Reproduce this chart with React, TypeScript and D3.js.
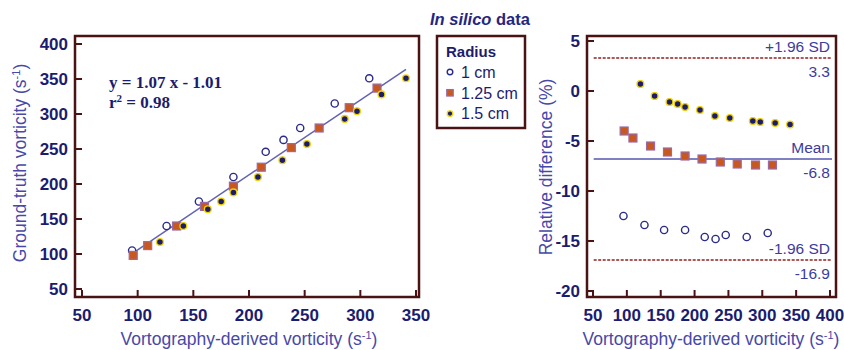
import { useEffect, useRef } from 'react';
import * as d3 from 'd3';

const circleX = [95, 126, 155, 186, 215, 231, 246, 277, 308];
const circleY = [105, 140, 175, 210, 246, 263, 280, 315, 351];
const circleDiff = [-12.5, -13.4, -13.9, -13.9, -14.6, -14.8, -14.4, -14.6, -14.2];

const squareX = [96, 109, 135, 160, 186, 211, 238, 263, 290, 315];
const squareY = [98, 112, 140, 168, 197, 224, 252, 280, 309, 337];
const squareDiff = [-4.0, -4.7, -5.5, -6.1, -6.5, -6.8, -7.1, -7.3, -7.4, -7.4];

const dotX = [120, 141, 163, 175, 186, 208, 230, 252, 286, 297, 319, 341];
const dotY = [117, 140, 164, 175, 188, 210, 234, 257, 293, 304, 328, 351];
const dotDiff = [0.7, -0.5, -1.1, -1.3, -1.6, -1.9, -2.5, -2.7, -3.0, -3.1, -3.2, -3.35];

const fitSlope = 1.07;
const fitIntercept = -1.01;
const fitRange = [95, 341];

const upperLimit = 3.3;
const meanDiff = -6.8;
const lowerLimit = -16.9;

const leftXTicks = [50, 100, 150, 200, 250, 300, 350];
const leftYTicks = [50, 100, 150, 200, 250, 300, 350, 400];
const rightXTicks = [50, 100, 150, 200, 250, 300, 350, 400];
const rightYTicks = [5, 0, -5, -10, -15, -20];

const legendLabels = ['1 cm', '1.25 cm', '1.5 cm'];

const NAVY = '#1c1c6e';
const TITLE_BLUE = '#4848a8';
const FRAME = '#4a1212';
const SANS = 'Arial, "Liberation Sans", sans-serif';

const App = () => {
  const svgRef = useRef(null);

  useEffect(() => {
    const svg = d3.select(svgRef.current);
    svg.selectAll('*').remove();

    // marker painters
    const drawCircle = (g, x, y, r = 3.6) =>
      g.append('circle').attr('cx', x).attr('cy', y).attr('r', r)
        .attr('fill', '#fff').attr('stroke', '#2a2a88').attr('stroke-width', 1.4);
    const drawSquare = (g, x, y, s = 8) =>
      g.append('rect').attr('x', x - s / 2).attr('y', y - s / 2)
        .attr('width', s).attr('height', s)
        .attr('fill', '#c8581e').attr('stroke', '#9a6aa8').attr('stroke-width', 1.2);
    const drawDot = (g, x, y, r = 3.4) =>
      g.append('circle').attr('cx', x).attr('cy', y).attr('r', r)
        .attr('fill', NAVY).attr('stroke', '#f2d400').attr('stroke-width', 1.3);

    const drawPanel = ({ frame, x, y, xTicks, yTicks }) => {
      const g = svg.append('g');
      g.append('rect')
        .attr('x', frame.left).attr('y', frame.top)
        .attr('width', frame.right - frame.left).attr('height', frame.bottom - frame.top)
        .attr('fill', 'none').attr('stroke', FRAME).attr('stroke-width', 2.5);

      xTicks.forEach((t) => {
        g.append('line')
          .attr('x1', x(t)).attr('x2', x(t))
          .attr('y1', frame.bottom).attr('y2', frame.bottom - 7)
          .attr('stroke', FRAME).attr('stroke-width', 2);
        g.append('text')
          .attr('x', x(t)).attr('y', frame.bottom + 24)
          .attr('text-anchor', 'middle')
          .attr('font-family', SANS).attr('font-weight', 'bold').attr('font-size', 17)
          .attr('fill', NAVY)
          .text(t);
      });
      yTicks.forEach((t) => {
        g.append('line')
          .attr('x1', frame.left).attr('x2', frame.left + 7)
          .attr('y1', y(t)).attr('y2', y(t))
          .attr('stroke', FRAME).attr('stroke-width', 2);
        g.append('text')
          .attr('x', frame.left - 7).attr('y', y(t)).attr('dy', '0.36em')
          .attr('text-anchor', 'end')
          .attr('font-family', SANS).attr('font-weight', 'bold').attr('font-size', 17)
          .attr('fill', NAVY)
          .text(t);
      });
      return g;
    };

    const axisTitle = (g, text, x, y, rotate) => {
      const t = g.append('text')
        .attr('text-anchor', 'middle')
        .attr('font-family', SANS).attr('font-size', 17.5)
        .attr('fill', TITLE_BLUE)
        .attr('transform', rotate ? `translate(${x},${y}) rotate(-90)` : `translate(${x},${y})`);
      t.append('tspan').text(text);
      t.append('tspan').attr('font-size', 11).attr('dy', -6).text('-1');
      t.append('tspan').attr('dy', 6).text(')');
    };

    // ---- Left panel: regression ----
    const leftFrame = { left: 75, right: 419, top: 36, bottom: 297 };
    const xL = d3.scaleLinear().domain([50, 350]).range([82, 416]);
    const yL = d3.scaleLinear().domain([50, 400]).range([289, 44]);
    const left = drawPanel({ frame: leftFrame, x: xL, y: yL, xTicks: leftXTicks, yTicks: leftYTicks });

    const fitLine = d3.line()
      .x((d) => xL(d))
      .y((d) => yL(fitSlope * d + fitIntercept));
    left.append('path')
      .datum(fitRange)
      .attr('d', fitLine)
      .attr('fill', 'none').attr('stroke', '#6262b4').attr('stroke-width', 1.5);

    circleX.forEach((v, i) => drawCircle(left, xL(v), yL(circleY[i])));
    squareX.forEach((v, i) => drawSquare(left, xL(v), yL(squareY[i])));
    dotX.forEach((v, i) => drawDot(left, xL(v), yL(dotY[i])));

    const eq = left.append('g')
      .attr('font-family', '"Liberation Serif", "Times New Roman", serif')
      .attr('font-weight', 'bold').attr('font-size', 17).attr('fill', NAVY);
    eq.append('text').attr('x', 109).attr('y', 88)
      .text(`y = ${fitSlope.toFixed(2)} x - ${Math.abs(fitIntercept).toFixed(2)}`);
    const r2 = eq.append('text').attr('x', 109).attr('y', 108);
    r2.append('tspan').text('r');
    r2.append('tspan').attr('font-size', 11).attr('dy', -6).text('2');
    r2.append('tspan').attr('dy', 6).text(' = 0.98');

    axisTitle(left, 'Ground-truth vorticity (s', 26, 163, true);
    axisTitle(left, 'Vortography-derived vorticity (s', 249, 345, false);

    // ---- Right panel: Bland-Altman ----
    const rightFrame = { left: 587, right: 836, top: 36, bottom: 297 };
    const xR = d3.scaleLinear().domain([50, 400]).range([593, 830]);
    const yR = d3.scaleLinear().domain([-20, 5]).range([291, 41]);
    const right = drawPanel({ frame: rightFrame, x: xR, y: yR, xTicks: rightXTicks, yTicks: rightYTicks });

    const refLine = (value, dashed) => {
      right.append('line')
        .attr('x1', xR(51)).attr('x2', xR(403))
        .attr('y1', yR(value)).attr('y2', yR(value))
        .attr('stroke', dashed ? '#8e2222' : '#5656b0')
        .attr('stroke-width', dashed ? 1.5 : 1.4)
        .attr('stroke-dasharray', dashed ? '3,1.5' : null);
    };
    const refLabel = (text, value, above) => {
      right.append('text')
        .attr('x', xR(400)).attr('y', yR(value) + (above ? -6 : 19))
        .attr('text-anchor', 'end')
        .attr('font-family', SANS).attr('font-size', 15.5)
        .attr('fill', '#3c3c9c')
        .text(text);
    };
    refLine(upperLimit, true);
    refLine(meanDiff, false);
    refLine(lowerLimit, true);
    refLabel('+1.96 SD', upperLimit, true);
    refLabel(upperLimit.toFixed(1), upperLimit, false);
    refLabel('Mean', meanDiff, true);
    refLabel(meanDiff.toFixed(1), meanDiff, false);
    refLabel('-1.96 SD', lowerLimit, true);
    refLabel(lowerLimit.toFixed(1), lowerLimit, false);

    circleX.forEach((v, i) => drawCircle(right, xR(v), yR(circleDiff[i])));
    squareX.forEach((v, i) => drawSquare(right, xR(v), yR(squareDiff[i])));
    dotX.forEach((v, i) => drawDot(right, xR(v), yR(dotDiff[i])));

    right.append('text')
      .attr('text-anchor', 'middle')
      .attr('font-family', SANS).attr('font-size', 17.5)
      .attr('fill', TITLE_BLUE)
      .attr('transform', 'translate(552,167) rotate(-90)')
      .text('Relative difference (%)');
    axisTitle(right, 'Vortography-derived vorticity (s', 711, 345, false);

    // ---- Legend ----
    const legend = svg.append('g');
    legend.append('rect')
      .attr('x', 437).attr('y', 36).attr('width', 88).attr('height', 92)
      .attr('fill', '#fff').attr('stroke', FRAME).attr('stroke-width', 2.5);
    legend.append('text')
      .attr('x', 446).attr('y', 57)
      .attr('font-family', SANS).attr('font-weight', 'bold').attr('font-size', 15)
      .attr('fill', NAVY)
      .text('Radius');
    const painters = [
      (yy) => drawCircle(legend, 450, yy, 2.8),
      (yy) => drawSquare(legend, 450, yy, 6.5),
      (yy) => drawDot(legend, 450, yy, 2.8),
    ];
    legendLabels.forEach((label, i) => {
      const yy = 72 + i * 20.8;
      painters[i](yy);
      legend.append('text')
        .attr('x', 461).attr('y', yy).attr('dy', '0.36em')
        .attr('font-family', SANS).attr('font-size', 16)
        .attr('fill', NAVY)
        .text(label);
    });

    // ---- Title ----
    const title = svg.append('text')
      .attr('x', 480).attr('y', 25)
      .attr('text-anchor', 'middle')
      .attr('font-family', SANS).attr('font-weight', 'bold').attr('font-size', 16.5)
      .attr('fill', '#262680');
    title.append('tspan').attr('font-style', 'italic').text('In silico');
    title.append('tspan').text(' data');
  }, []);

  return (
    <div style={{ position: 'fixed', left: 0, top: 0, width: 844, height: 350, background: '#fff' }}>
      <svg ref={svgRef} width={844} height={350}></svg>
    </div>
  );
};

export default App;
